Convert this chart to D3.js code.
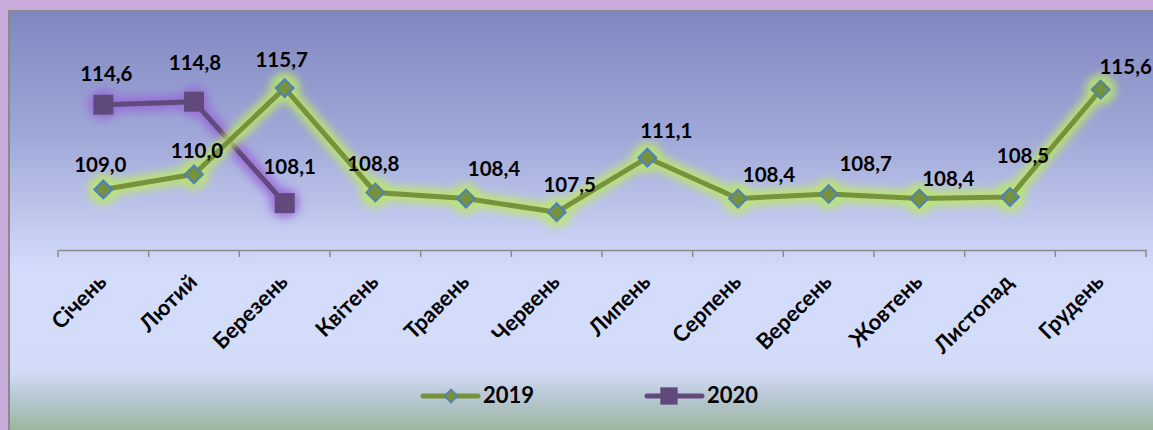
<!DOCTYPE html>
<html>
<head>
<meta charset="utf-8">
<script src="https://cdn.jsdelivr.net/npm/d3@7/dist/d3.min.js"></script>
<style>
  html, body { margin: 0; padding: 0; background: #c8aadb; }
  svg { display: block; }
  text { font-family: Lato, "Open Sans", sans-serif; font-weight: bold; fill: #000; }
</style>
</head>
<body>
<svg id="chart" width="1153" height="430"></svg>
<script>
// ---- data ----
const months = ["Січень","Лютий","Березень","Квітень","Травень","Червень","Липень","Серпень","Вересень","Жовтень","Листопад","Грудень"];
const values2019 = [109.0,110.0,115.7,108.8,108.4,107.5,111.1,108.4,108.7,108.4,108.5,115.6];
const values2020 = [114.6,114.8,108.1];
const seriesNames = ["2019","2020"];

// ---- layout (label nudges as in the original, px) ----
const labelOffsets2019 = [[-3,-17],[3,-16],[-3,-21],[-2,-21],[28,-23],[13,-20],[19,-20],[31,-17],[37,-23],[29,-13],[13,-34],[25,-16]];
const labelOffsets2020 = [[3,-24],[1,-32],[5,-29]];

const svg = d3.select("#chart");
const W = 1153, H = 430;
const defs = svg.append("defs");

const bg = defs.append("linearGradient").attr("id","bg").attr("x1",0).attr("y1",0).attr("x2",0).attr("y2",1);
[[0,"#7f87c0"],[0.3,"#a0a8d8"],[0.62,"#d4dcfc"],[0.86,"#d2dcf8"],[0.92,"#b8c8d4"],[1,"#9db59e"]]
  .forEach(([o,c]) => bg.append("stop").attr("offset",o).attr("stop-color",c));

const blur = defs.append("filter").attr("id","glow").attr("x","-20%").attr("y","-50%").attr("width","140%").attr("height","200%");
blur.append("feGaussianBlur").attr("stdDeviation",4.5);

// outer frame & panel
svg.append("rect").attr("width",W).attr("height",H).attr("fill","#c8aadb");
svg.append("rect").attr("x",9).attr("y",11).attr("width",W-9).attr("height",H-11).attr("fill","url(#bg)");
svg.append("path").attr("d",`M9,${H} V11 H${W}`).attr("fill","none").attr("stroke","#8a8a8a").attr("stroke-width",2);

// scales
const x = d3.scaleBand().domain(months).range([58,1146]);
const y = d3.scaleLinear().domain([105,120]).range([250,23]);
const cx = m => x(m) + x.bandwidth()/2;

// axis
const axis = svg.append("g").attr("transform","translate(0,250)")
  .call(d3.axisBottom(x).tickSize(0).tickFormat(""));
axis.select(".domain").attr("stroke","#8c8c8c").attr("stroke-width",1.5);
const tickPos = d3.range(months.length+1).map(i => 58 + i*x.bandwidth());
axis.selectAll("line.tk").data(tickPos).join("line").attr("class","tk")
  .attr("x1",d=>d).attr("x2",d=>d).attr("y1",0).attr("y2",7)
  .attr("stroke","#8c8c8c").attr("stroke-width",1.5);
svg.append("g").selectAll("text").data(months).join("text")
  .attr("transform", d => `translate(${cx(d)-1},${278}) rotate(-45)`)
  .attr("text-anchor","end").attr("dy","0.35em")
  .style("font-size","22px").text(d => d);

const line = d3.line().x((d,i) => cx(months[i])).y(d => y(d));

function drawSeries(vals, color, glowColor, markerType, offsets) {
  const g = svg.append("g");
  const glow = g.append("g").attr("filter","url(#glow)").attr("opacity",0.9);
  glow.append("path").attr("d", line(vals)).attr("fill","none")
    .attr("stroke",glowColor).attr("stroke-width",15).attr("stroke-linejoin","round").attr("stroke-linecap","round");
  glow.selectAll("circle").data(vals).join("circle")
    .attr("cx",(d,i)=>cx(months[i])).attr("cy",d=>y(d)).attr("r",15).attr("fill",glowColor);
  g.append("path").attr("d", line(vals)).attr("fill","none")
    .attr("stroke",color).attr("stroke-width",5).attr("stroke-linejoin","round");
  if (markerType === "diamond") {
    g.selectAll("path.m").data(vals).join("path").attr("class","m")
      .attr("d", d3.symbol(d3.symbolSquare, 160)())
      .attr("transform",(d,i)=>`translate(${cx(months[i])},${y(d)}) rotate(45)`)
      .attr("fill",color).attr("stroke","#4f81bd").attr("stroke-width",2);
  } else {
    g.selectAll("path.m").data(vals).join("path").attr("class","m")
      .attr("d", d3.symbol(d3.symbolSquare, 400)())
      .attr("transform",(d,i)=>`translate(${cx(months[i])},${y(d)})`)
      .attr("fill",color);
  }
  g.selectAll("text").data(vals).join("text")
    .attr("x",(d,i)=>cx(months[i]) + offsets[i][0])
    .attr("y",(d,i)=>y(d) + offsets[i][1])
    .attr("text-anchor","middle").style("font-size","20.5px")
    .text(d => d.toFixed(1).replace(".", ","));
}

drawSeries(values2020, "#604a7b", "#9a6ad8", "square", labelOffsets2020);
drawSeries(values2019, "#76923c", "#bce866", "diamond", labelOffsets2019);

// legend
const leg = svg.append("g");
const legItems = [
  {name: seriesNames[0], x0: 423, color: "#76923c", type: "diamond"},
  {name: seriesNames[1], x0: 647, color: "#604a7b", type: "square"}
];
legItems.forEach(it => {
  const gg = leg.append("g").attr("transform",`translate(${it.x0},396)`);
  gg.append("line").attr("x1",0).attr("x2",55).attr("stroke",it.color).attr("stroke-width",5).attr("stroke-linecap","round");
  if (it.type === "diamond") {
    gg.append("path").attr("d", d3.symbol(d3.symbolSquare, 90)())
      .attr("transform","translate(28,0) rotate(45)").attr("fill",it.color).attr("stroke","#4f81bd").attr("stroke-width",1.5);
  } else {
    gg.append("path").attr("d", d3.symbol(d3.symbolSquare, 300)())
      .attr("transform","translate(22,0)").attr("fill",it.color);
  }
  gg.append("text").attr("x",60).attr("y",7).style("font-size","22px").text(it.name);
});
</script>
</body>
</html>
